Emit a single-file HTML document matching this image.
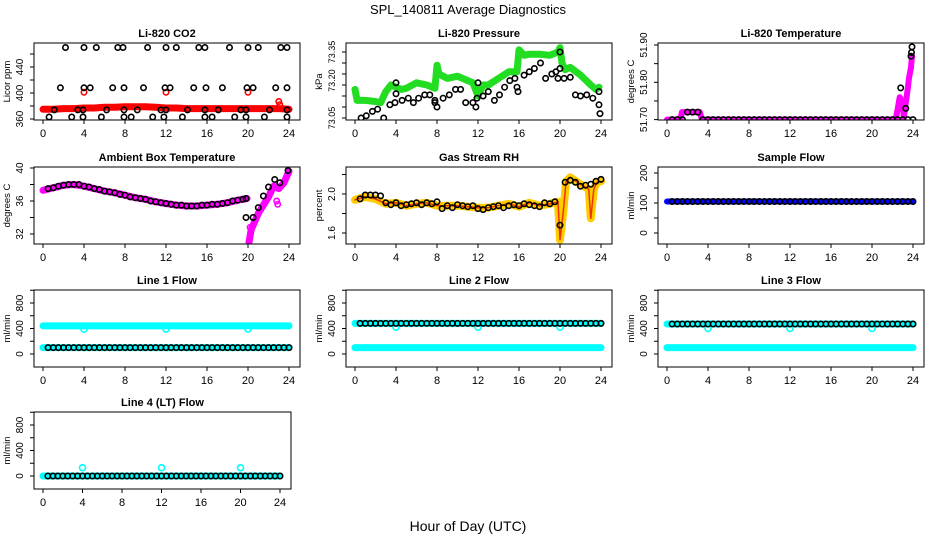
<!DOCTYPE html>
<html><head><meta charset="utf-8"><style>
html,body{margin:0;padding:0;background:#fff;}
svg{display:block;font-family:"Liberation Sans",sans-serif;}
</style></head><body>
<svg id="chart" width="936" height="540" viewBox="0 0 936 540">
<defs id="defs"></defs>
<text x="468" y="14" text-anchor="middle" font-size="13">SPL_140811  Average Diagnostics</text>
<text x="468" y="531" text-anchor="middle" font-size="14">Hour of Day (UTC)</text>
</svg>
<script>
// ---------- data ----------
const X_TICKS = [0,4,8,12,16,20,24];
const HB = [0.5,1,1.5,2,2.5,3,3.5,4,4.5,5,5.5,6,6.5,7,7.5,8,8.5,9,9.5,10,10.5,11,11.5,12,12.5,13,13.5,14,14.5,15,15.5,16,16.5,17,17.5,18,18.5,19,19.5,20,20.5,21,21.5,22,22.5,23,23.5,24];

// CO2
const CO2_RED_H = [0,1,2,3,4,5,6,7,8,9,10,11,12,13,14,15,16,17,18,19,20,21,22,23,24];
const CO2_RED_V = [375,375,376,376,377,377,378,378,379,379,379,378,377,377,376,376,376,376,376,376,376,376,376,376,375];
const CO2_REDOUT_H = [4,12,20,23,23.1];
const CO2_REDOUT_V = [401,401,401,387,382];
const CO2_BLK_H = [2.2,4,5.2,7.3,7.8,10.2,12,13,15.2,15.8,18.2,20,21,23.2,23.8, 1.7,4,4.6,6.8,7.9,9.8,11.9,12.4,14.7,15.9,17.5,19.9,20.5,22.7,23.8, 1.1,3.4,3.9,6.2,7.9,9.2,11.5,12,14.1,15.8,17.1,19.3,19.8,22.1,23.8, 0.6,2.8,3.9,5.7,7.9,8.6,10.7,11.8,13.6,15.8,16.5,18.7,19.8,21.6,23.8];
const CO2_BLK_V = [470,470,470,470,470,470,470,470,470,470,470,470,470,470,470, 408,408,408,408,408,408,408,408,408,408,408,408,408,408,408, 374,374,374,374,374,374,374,374,374,374,374,374,374,374,374, 363,363,363,363,363,363,363,363,363,363,363,363,363,363,363];

// Pressure
const P_GRN_H = [0,0.2,1,2,2.5,3,3.5,4,4.5,5,6,7,7.8,8,8.2,9,10,11,11.5,12,12.5,13,14,15,15.8,16,16.5,17,18,19,19.8,20,20.2,20.5,21,22,23,23.5,23.8];
const P_GRN_V = [73.18,73.13,73.13,73.125,73.12,73.17,73.20,73.19,73.18,73.185,73.21,73.20,73.185,73.29,73.25,73.23,73.24,73.22,73.21,73.15,73.20,73.20,73.23,73.26,73.26,73.36,73.335,73.34,73.34,73.335,73.35,73.37,73.30,73.27,73.28,73.245,73.20,73.18,73.19];
const P_BLK_H = [0.6,1.1,1.7,2.2,2.8,3.4,3.9,4,4,4.6,5.2,5.7,6.2,6.8,7.3,7.8,7.8,8,8.6,9.2,9.8,10.3,10.8,11.5,11.8,11.9,12,12.5,13,13.6,14.1,14.6,15.1,15.6,15.8,15.9,16.5,17,17.5,18.1,18.6,19.2,19.6,19.8,20,20,20.4,21,21.5,22,22.6,23.2,23.8,23.8,23.9];
const P_BLK_V = [73.05,73.06,73.08,73.09,73.05,73.11,73.12,73.16,73.21,73.13,73.14,73.12,73.14,73.155,73.155,73.13,73.12,73.10,73.14,73.155,73.18,73.18,73.12,73.12,73.10,73.14,73.21,73.15,73.17,73.13,73.155,73.19,73.22,73.23,73.19,73.17,73.245,73.26,73.275,73.30,73.23,73.25,73.26,73.23,73.35,73.275,73.23,73.235,73.155,73.15,73.155,73.14,73.17,73.11,73.07];

// Li-820 Temperature
const T_MAG_H = [0,1.3,1.45,3.2,3.4,22.3,22.5,22.7,23,23.1,23.3,23.5,23.6,23.8,23.9];
const T_MAG_V = [51.70,51.70,51.72,51.72,51.70,51.70,51.727,51.76,51.74,51.706,51.745,51.786,51.81,51.84,51.87];
const T_BLK_V = [51.70,51.70,51.70,51.72,51.72,51.72,51.70,51.70,51.70,51.70,51.70,51.70,51.70,51.70,51.70,51.70,51.70,51.70,51.70,51.70,51.70,51.70,51.70,51.70,51.70,51.70,51.70,51.70,51.70,51.70,51.70,51.70,51.70,51.70,51.70,51.70,51.70,51.70,51.70,51.70,51.70,51.70,51.70,51.70,51.70,51.70,51.70,51.70];
const T_BLKX_H = [22.8,23.3,23.8,23.85,23.9];
const T_BLKX_V = [51.785,51.73,51.87,51.88,51.895];

// Ambient box temperature
const A_MAG1_H = [0,1,2,3,4,5,6,7,8,9,10,11,12,13,14,15,16,17,18,19,19.9];
const A_MAG1_V = [37.3,37.6,37.9,38.0,37.8,37.5,37.2,37.0,36.7,36.4,36.2,35.9,35.7,35.5,35.4,35.4,35.5,35.6,35.8,36.1,36.3];
const A_MAG2_H = [20.1,20.3,21,22,22.5,23,23.5,24];
const A_MAG2_V = [31.0,32.5,34.5,36.5,37.8,37.5,38.2,39.6];
const A_MAGOUT_H = [20.2,22.8,22.9];
const A_MAGOUT_V = [32.8,36.0,35.6];
const A_BLK_H = [0.5,1,1.5,2,2.5,3,3.5,4,4.5,5,5.5,6,6.5,7,7.5,8,8.5,9,9.5,10,10.5,11,11.5,12,12.5,13,13.5,14,14.5,15,15.5,16,16.5,17,17.5,18,18.5,19,19.5,19.8,19.8,20.5,21,21.5,22,22.6,23.1,23.9];
const A_BLK_V = [37.5,37.6,37.8,37.9,38.0,38.0,38.0,37.8,37.7,37.5,37.4,37.2,37.1,37.0,36.8,36.7,36.5,36.4,36.3,36.2,36.0,35.9,35.8,35.7,35.6,35.5,35.5,35.4,35.4,35.4,35.5,35.5,35.6,35.6,35.7,35.8,36.0,36.1,36.2,36.3,34.0,34.0,35.2,36.6,37.7,38.6,38.2,39.7];

// Gas stream RH
const RH_H = [0,1,2,3,4,5,6,7,8,9,10,11,12,13,14,15,16,17,18,19,19.8,20,20.3,20.6,21,22,22.8,23,23.3,23.6,24];
const RH_V = [1.94,1.97,1.95,1.90,1.91,1.88,1.90,1.91,1.88,1.88,1.88,1.87,1.86,1.86,1.88,1.90,1.87,1.91,1.88,1.90,1.92,1.53,1.80,2.13,2.17,2.10,2.05,1.75,2.05,2.12,2.13];
const RH_BLK_V = [1.95,1.99,1.99,1.99,1.98,1.91,1.89,1.91,1.88,1.89,1.90,1.91,1.89,1.91,1.90,1.92,1.85,1.88,1.86,1.89,1.88,1.87,1.88,1.85,1.84,1.86,1.87,1.88,1.86,1.88,1.89,1.88,1.90,1.89,1.88,1.87,1.91,1.90,1.92,1.68,2.12,2.14,2.12,2.08,2.09,2.10,2.13,2.15];

// Sample flow
const SF_BAND_H = [0,24];
const SF_BAND_V = [105,105];
const SF_BLK_V = [105,105,105,105,105,105,105,105,105,105,105,105,105,105,105,105,105,105,105,105,105,105,105,105,105,105,105,105,105,105,105,105,105,105,105,105,105,105,105,105,105,105,105,105,105,105,105,105];

// Line flows
const FLOW_BAND_H = [0,24];
const OUT_H = [4,12,20];
const L1_HI = [440,440], L1_LO = [100,100], L1_OUT = [390,390,390];
const L1_BLK = [100,100,100,100,100,100,100,100,100,100,100,100,100,100,100,100,100,100,100,100,100,100,100,100,100,100,100,100,100,100,100,100,100,100,100,100,100,100,100,100,100,100,100,100,100,100,100,100];
const L2_HI = [480,480], L2_LO = [100,100], L2_OUT = [420,420,420];
const L2_BLK = [480,480,480,480,480,480,480,480,480,480,480,480,480,480,480,480,480,480,480,480,480,480,480,480,480,480,480,480,480,480,480,480,480,480,480,480,480,480,480,480,480,480,480,480,480,480,480,480];
const L3_HI = [470,470], L3_LO = [100,100], L3_OUT = [400,400,400];
const L3_BLK = [470,470,470,470,470,470,470,470,470,470,470,470,470,470,470,470,470,470,470,470,470,470,470,470,470,470,470,470,470,470,470,470,470,470,470,470,470,470,470,470,470,470,470,470,470,470,470,470];
const L4_LO = [0,0], L4_OUT = [130,130,130];
const L4_BLK = [0,0,0,0,0,0,0,0,0,0,0,0,0,0,0,0,0,0,0,0,0,0,0,0,0,0,0,0,0,0,0,0,0,0,0,0,0,0,0,0,0,0,0,0,0,0,0,0];

// ---------- drawing ----------
const NS = 'http://www.w3.org/2000/svg';
const svg = document.getElementById('chart');
const defs = document.getElementById('defs');
let clipN = 0;
function mk(tag, attrs, parent){
  const e = document.createElementNS(NS, tag);
  for (const k in attrs) e.setAttribute(k, attrs[k]);
  (parent||svg).appendChild(e);
  return e;
}

function panel(cfg){
  const g = mk('g', {});
  
  
  const L = cfg.left, T = cfg.top, W = cfg.w, H = 77;
  const x0 = L + 9, x1 = L + W - 11;
  const xs = h => x0 + (h/24)*(x1-x0);
  const ys = v => cfg.yPix[0] + (v - cfg.yDom[0])/(cfg.yDom[1]-cfg.yDom[0])*(cfg.yPix[1]-cfg.yPix[0]);
  const cid = 'clip' + (clipN++);
  const cp = mk('clipPath', {id: cid}, defs);
  mk('rect', {x:L, y:T, width:W, height:H}, cp);
  const dg = mk('g', {'clip-path': `url(#${cid})`}, g);
  
  
  cfg.layers.forEach(ly => {
    if (ly.type === 'band') {
      const pts = ly.h.map((h,i) => xs(h).toFixed(1)+','+ys(ly.v[i]).toFixed(1)).join(' ');
      const pl = mk('polyline', {points: pts, fill:'none', stroke: ly.color, 'stroke-width': ly.w||7, 'stroke-linecap':'round', 'stroke-linejoin':'round'}, dg);
      
      
    } else {
      ly.h.forEach((h,i) => {
        const c = mk('circle', {cx: xs(h).toFixed(1), cy: ys(ly.v[i]).toFixed(1), r: ly.r||2.7, fill:'none', stroke: ly.color, 'stroke-width': 1.6}, dg);
        
        
      });
    }
  });
  const box = mk('rect', {x:L, y:T, width:W, height:H, fill:'none', stroke:'#000', 'stroke-width':1}, g);
  
  
  const t = mk('text', {x: L+W/2, y: T-6, 'text-anchor':'middle', 'font-size':11, 'font-weight':'bold'}, g);
  t.textContent = cfg.title;
  
  
  const by = T + H;
  mk('line', {x1:xs(0), y1:by, x2:xs(24), y2:by, stroke:'#000'}, g);
  X_TICKS.forEach(v => {
    mk('line', {x1:xs(v), y1:by, x2:xs(v), y2:by+4, stroke:'#000'}, g);
    const tl = mk('text', {x:xs(v), y:by+17, 'text-anchor':'middle', 'font-size':11}, g);
    tl.textContent = v;
    
    
  });
  const yt = cfg.yTicks;
  mk('line', {x1:L, y1:ys(yt[0]), x2:L, y2:ys(yt[yt.length-1]), stroke:'#000'}, g);
  yt.forEach(v => mk('line', {x1:L-4, y1:ys(v), x2:L, y2:ys(v), stroke:'#000'}, g));
  const fs = cfg.yFont || 10;
  cfg.yLabAt.forEach((v,i) => {
    const yy = ys(v);
    const tl = mk('text', {x:L-11, y:yy, 'text-anchor':'middle', 'font-size':fs, transform:`rotate(-90 ${L-11} ${yy})`}, g);
    tl.textContent = cfg.yLabText[i];
    
    
  });
  const yl = T + H/2;
  const yt2 = mk('text', {x:L-24, y:yl, 'text-anchor':'middle', 'font-size':9.5, transform:`rotate(-90 ${L-24} ${yl})`}, g);
  yt2.textContent = cfg.ylab;
  
  
}

const COLS = [34, 346, 658];
const ROWS = [43, 167, 290, 412];
function fy(top){ return [top+64, top+13]; }

panel({name:'co2-panel', title:'Li-820 CO2', ylab:'Licor ppm', left:COLS[0], top:ROWS[0], w:266,
  yDom:[360,440], yPix:[119,67], yTicks:[360,380,400,420,440,460], yLabAt:[360,400,440], yLabText:['360','400','440'],
  layers:[{type:'band',h:CO2_RED_H,v:CO2_RED_V,color:'#ff0000',w:7,name:'co2-band'},
          {type:'pts',h:CO2_REDOUT_H,v:CO2_REDOUT_V,color:'#ff0000',name:'co2-red-point'},
          {type:'pts',h:CO2_BLK_H,v:CO2_BLK_V,color:'#000',name:'co2-black-point'}]});

panel({name:'pressure-panel', title:'Li-820 Pressure', ylab:'kPa', left:COLS[1], top:ROWS[0], w:266, yFont:9,
  yDom:[73.05,73.35], yPix:[118,52], yTicks:[73.05,73.10,73.15,73.20,73.25,73.30,73.35], yLabAt:[73.05,73.22,73.35], yLabText:['73.05','73.20','73.35'],
  layers:[{type:'band',h:P_GRN_H,v:P_GRN_V,color:'#22dd22',w:7,name:'pressure-band'},
          {type:'pts',h:P_BLK_H,v:P_BLK_V,color:'#000',name:'pressure-black-point'}]});

panel({name:'temperature-panel', title:'Li-820 Temperature', ylab:'degrees C', left:COLS[2], top:ROWS[0], w:266,
  yDom:[51.70,51.90], yPix:[119.6,45], yTicks:[51.70,51.75,51.80,51.85,51.90], yLabAt:[51.70,51.80,51.90], yLabText:['51.70','51.80','51.90'],
  layers:[{type:'band',h:T_MAG_H,v:T_MAG_V,color:'#ff00ff',w:6,name:'temperature-band'},
          {type:'pts',h:HB,v:T_BLK_V,color:'#000',name:'temperature-black-point'},
          {type:'pts',h:T_BLKX_H,v:T_BLKX_V,color:'#000',name:'temperature-black-point'}]});

panel({name:'ambient-panel', title:'Ambient Box Temperature', ylab:'degrees C', left:COLS[0], top:ROWS[1], w:266,
  yDom:[32,40], yPix:[234,168], yTicks:[32,34,36,38,40], yLabAt:[32,36,40], yLabText:['32','36','40'],
  layers:[{type:'band',h:A_MAG1_H,v:A_MAG1_V,color:'#ff00ff',w:7,name:'ambient-band'},
          {type:'band',h:A_MAG2_H,v:A_MAG2_V,color:'#ff00ff',w:7,name:'ambient-band'},
          {type:'pts',h:A_MAGOUT_H,v:A_MAGOUT_V,color:'#ff00ff',name:'ambient-magenta-point'},
          {type:'pts',h:A_BLK_H,v:A_BLK_V,color:'#000',name:'ambient-black-point'}]});

panel({name:'rh-panel', title:'Gas Stream RH', ylab:'percent', left:COLS[1], top:ROWS[1], w:266,
  yDom:[1.6,2.0], yPix:[233,194], yTicks:[1.6,1.8,2.0,2.2], yLabAt:[1.6,2.0], yLabText:['1.6','2.0'],
  layers:[{type:'band',h:RH_H,v:RH_V,color:'#ffcc00',w:8,name:'rh-band'},
          {type:'band',h:RH_H,v:RH_V,color:'#ee3300',w:1.5,name:'rh-band-outline'},
          {type:'pts',h:HB,v:RH_BLK_V,color:'#000',name:'rh-black-point'}]});

panel({name:'sample-flow-panel', title:'Sample Flow', ylab:'ml/min', left:COLS[2], top:ROWS[1], w:266,
  yDom:[0,200], yPix:[233,173], yTicks:[0,50,100,150,200], yLabAt:[0,100,200], yLabText:['0','100','200'],
  layers:[{type:'band',h:SF_BAND_H,v:SF_BAND_V,color:'#0000ff',w:6,name:'sample-flow-band'},
          {type:'pts',h:HB,v:SF_BLK_V,color:'#000',name:'sample-flow-black-point'}]});

function flowPanel(name,title,col,row,w,hi,lo,out,blk){
  const layers = [];
  if (hi) layers.push({type:'band',h:FLOW_BAND_H,v:hi,color:'#00ffff',w:7,name:'flow-high-band'});
  layers.push({type:'band',h:FLOW_BAND_H,v:lo,color:'#00ffff',w:7,name:'flow-low-band'});
  layers.push({type:'pts',h:OUT_H,v:out,color:'#00ffff',r:3,name:'flow-outlier'});
  layers.push({type:'pts',h:HB,v:blk,color:'#000',name:'flow-black-point'});
  panel({name:name, title:title, ylab:'ml/min', left:COLS[col], top:ROWS[row], w:w,
    yDom:[0,800], yPix:fy(ROWS[row]), yTicks:[0,200,400,600,800,1000], yLabAt:[0,400,800], yLabText:['0','400','800'],
    layers:layers});
}
flowPanel('line1-flow-panel','Line 1 Flow',0,2,266,L1_HI,L1_LO,L1_OUT,L1_BLK);
flowPanel('line2-flow-panel','Line 2 Flow',1,2,266,L2_HI,L2_LO,L2_OUT,L2_BLK);
flowPanel('line3-flow-panel','Line 3 Flow',2,2,266,L3_HI,L3_LO,L3_OUT,L3_BLK);
flowPanel('line4-flow-panel','Line 4 (LT) Flow',0,3,257,null,L4_LO,L4_OUT,L4_BLK);
</script>
</body></html>
